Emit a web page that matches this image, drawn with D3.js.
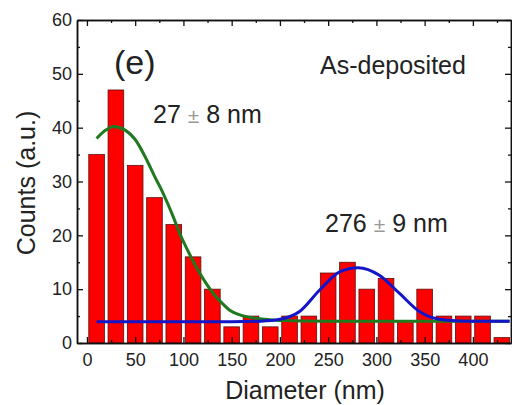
<!DOCTYPE html>
<html>
<head>
<meta charset="utf-8">
<script src="https://cdn.jsdelivr.net/npm/d3@7"></script>
<style>
  body { margin: 0; background: #fff; }
  text { font-family: "Liberation Sans", Arial, sans-serif; fill: #222; }
</style>
</head>
<body>
<div id="chart"></div>
<script>
const F_WIDTH = 512;
const F_HEIGHT = 405;
const MARGINS = {left: 77, right: 1, top: 20, bottom: 62};

const VIS_WIDTH = F_WIDTH - MARGINS.left - MARGINS.right;
const VIS_HEIGHT = F_HEIGHT - MARGINS.top - MARGINS.bottom;

// histogram bins (centre of each 20 nm bin) and counts
const binCenters = [10, 30, 50, 70, 90, 110, 130, 150, 170, 190, 210, 230,
                    250, 270, 290, 310, 330, 350, 370, 390, 410, 430];
const counts = [35, 47, 33, 27, 22, 16, 10, 3, 5, 3, 5, 5,
                13, 15, 10, 12, 4, 10, 5, 5, 5, 1];

// fitted curves
const greenX = [10, 20, 27, 40, 50, 62, 70, 79, 90, 96, 105, 113, 122, 131,
                140, 148, 157, 165, 179, 200, 250, 300, 350, 400, 438];
const greenY = [38.0, 39.6, 40.2, 39.5, 37.8, 34.0, 31.0, 27.8, 23.2, 20.4, 17.0, 14.2, 11.5, 9.2,
                7.4, 6.1, 5.3, 4.9, 4.5, 4.2, 4.05, 4.05, 4.05, 4.05, 4.05];

const blueX = [10, 100, 150, 180, 200, 220, 241, 262, 281, 303, 324, 345, 365, 385, 410, 438];
const blueY = [3.95, 3.95, 3.95, 4.05, 4.4, 5.8, 9.8, 13.2, 14.0, 12.6, 9.2, 5.8, 4.4, 4.1, 4.05, 4.05];

const xTicks = [0, 50, 100, 150, 200, 250, 300, 350, 400];
const yTicks = [0, 10, 20, 30, 40, 50, 60];

const FRAME = d3.select("#chart")
            .append("svg")
              .attr("width", F_WIDTH)
              .attr("height", F_HEIGHT);

const X_SCALE = d3.scaleLinear()
          .domain([-10.3, 439.5])
          .range([0, VIS_WIDTH]);

const Y_SCALE = d3.scaleLinear()
          .domain([0, 60])
          .range([VIS_HEIGHT, 0]);

const G = FRAME.append("g")
        .attr("transform", "translate(" + MARGINS.left + "," + MARGINS.top + ")");

// bars
const BAR_W = 16.2;
G.selectAll("bars")
  .data(binCenters)
  .enter()
  .append("rect")
    .attr("x", (d) => X_SCALE(d - BAR_W / 2))
    .attr("y", (d, i) => Y_SCALE(counts[i]))
    .attr("width", X_SCALE(BAR_W) - X_SCALE(0))
    .attr("height", (d, i) => VIS_HEIGHT - Y_SCALE(counts[i]))
    .style("fill", "#ff0000")
    .style("stroke", "#5a1010")
    .style("stroke-width", 0.8);

// fit lines
const line = d3.line()
        .x((d) => X_SCALE(d[0]))
        .y((d) => Y_SCALE(d[1]))
        .curve(d3.curveMonotoneX);

G.append("path")
  .datum(d3.zip(greenX, greenY))
  .attr("d", line)
  .style("fill", "none")
  .style("stroke", "#1f7a1f")
  .style("stroke-width", 3);

G.append("path")
  .datum(d3.zip(blueX, blueY))
  .attr("d", line)
  .style("fill", "none")
  .style("stroke", "#1414c8")
  .style("stroke-width", 3);

// minor tick values
const xMinor = d3.range(25, 440, 50);
const yMinor = d3.range(5, 60, 10);

function styleAxis(g) {
  g.select(".domain").style("stroke", "#111").style("stroke-width", 1.5);
  g.selectAll(".tick line").style("stroke", "#111").style("stroke-width", 1.3);
  g.selectAll("text").style("font-size", "18px").style("fill", "#222")
    .style("font-family", "'Liberation Sans', Arial, sans-serif");
}

// bottom axis
G.append("g")
  .attr("transform", "translate(0," + VIS_HEIGHT + ")")
  .call(d3.axisBottom(X_SCALE).tickValues(xTicks).tickSizeInner(-6).tickSizeOuter(0).tickPadding(10))
  .call(styleAxis);
G.append("g")
  .attr("transform", "translate(0," + VIS_HEIGHT + ")")
  .call(d3.axisBottom(X_SCALE).tickValues(xMinor).tickSizeInner(-3).tickSizeOuter(0).tickFormat(""))
  .call(styleAxis);

// top axis
G.append("g")
  .call(d3.axisTop(X_SCALE).tickValues(xTicks).tickSizeInner(-6).tickSizeOuter(0).tickFormat(""))
  .call(styleAxis);
G.append("g")
  .call(d3.axisTop(X_SCALE).tickValues(xMinor).tickSizeInner(-3).tickSizeOuter(0).tickFormat(""))
  .call(styleAxis);

// left axis
G.append("g")
  .call(d3.axisLeft(Y_SCALE).tickValues(yTicks).tickSizeInner(-6).tickSizeOuter(0).tickPadding(5))
  .call(styleAxis);
G.append("g")
  .call(d3.axisLeft(Y_SCALE).tickValues(yMinor).tickSizeInner(-3).tickSizeOuter(0).tickFormat(""))
  .call(styleAxis);

// right axis
G.append("g")
  .attr("transform", "translate(" + VIS_WIDTH + ",0)")
  .call(d3.axisRight(Y_SCALE).tickValues(yTicks).tickSizeInner(-6).tickSizeOuter(0).tickFormat(""))
  .call(styleAxis);
G.append("g")
  .attr("transform", "translate(" + VIS_WIDTH + ",0)")
  .call(d3.axisRight(Y_SCALE).tickValues(yMinor).tickSizeInner(-3).tickSizeOuter(0).tickFormat(""))
  .call(styleAxis);

// axis titles
FRAME.append("text")
  .attr("x", 305)
  .attr("y", 399)
  .attr("text-anchor", "middle")
  .style("font-size", "25px")
  .text("Diameter (nm)");

FRAME.append("text")
  .attr("transform", "translate(35,183) rotate(-90)")
  .attr("text-anchor", "middle")
  .style("font-size", "25px")
  .text("Counts (a.u.)");

// annotations
FRAME.append("text")
  .attr("x", 114)
  .attr("y", 74)
  .style("font-size", "34px")
  .text("(e)");

FRAME.append("text")
  .attr("x", 320)
  .attr("y", 74)
  .style("font-size", "25px")
  .text("As-deposited");

function pmLabel(x, y, a, b) {
  const t = FRAME.append("text")
        .attr("x", x)
        .attr("y", y)
        .style("font-size", "25px");
  t.append("tspan").text(a + " ");
  t.append("tspan").style("fill", "#999").style("font-size", "21px").text("±");
  t.append("tspan").text(" " + b);
}

pmLabel(153, 123, "27", "8 nm");
pmLabel(325, 232, "276", "9 nm");
</script>
</body>
</html>
